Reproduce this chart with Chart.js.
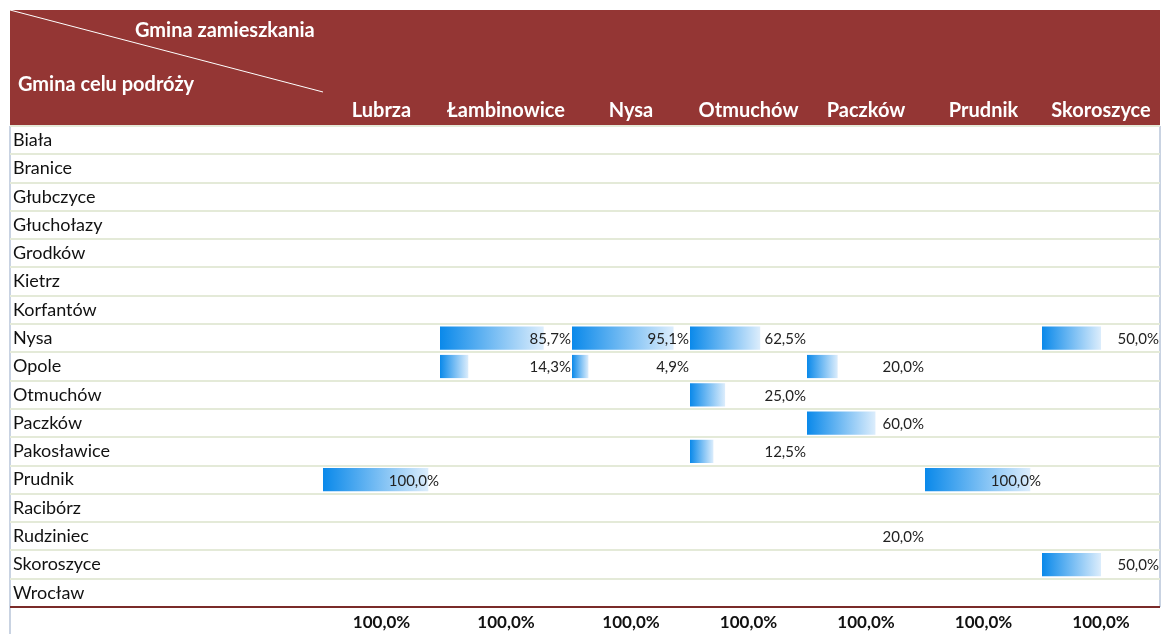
<!DOCTYPE html>
<html>
<head>
<meta charset="utf-8">
<script src="https://cdn.jsdelivr.net/npm/chart.js@4.4.0/dist/chart.umd.min.js"></script>
<style>
  html, body { margin: 0; padding: 0; background: #fff; }
</style>
</head>
<body>
<canvas id="chart" width="1164" height="634"></canvas>
<script>
const _ = null;

// wiersze: gmina celu podróży
const rowLabels = ['Biała', 'Branice', 'Głubczyce', 'Głuchołazy', 'Grodków', 'Kietrz', 'Korfantów', 'Nysa', 'Opole',
  'Otmuchów', 'Paczków', 'Pakosławice', 'Prudnik', 'Racibórz', 'Rudziniec', 'Skoroszyce', 'Wrocław'];
// kolumny: gmina zamieszkania
const colLabels = ['Lubrza', 'Łambinowice', 'Nysa', 'Otmuchów', 'Paczków', 'Prudnik', 'Skoroszyce'];

// udział (%) - jedna tablica na kolumnę, wartości w kolejności wierszy
const lubrza      = [_, _, _, _, _, _, _, _,    _,    _,  _,  _,    100, _, _,  _,  _];
const lambinowice = [_, _, _, _, _, _, _, 85.7, 14.3, _,  _,  _,    _,   _, _,  _,  _];
const nysa        = [_, _, _, _, _, _, _, 95.1, 4.9,  _,  _,  _,    _,   _, _,  _,  _];
const otmuchow    = [_, _, _, _, _, _, _, 62.5, _,    25, _,  12.5, _,   _, _,  _,  _];
const paczkow     = [_, _, _, _, _, _, _, _,    20,   _,  60, _,    _,   _, 20, _,  _];
const prudnik     = [_, _, _, _, _, _, _, _,    _,    _,  _,  _,    100, _, _,  _,  _];
const skoroszyce  = [_, _, _, _, _, _, _, 50,   _,    _,  _,  _,    _,   _, _,  50, _];
const series = [lubrza, lambinowice, nysa, otmuchow, paczkow, prudnik, skoroszyce];

// wiersz sumy
const totals = [100, 100, 100, 100, 100, 100, 100];

// komórki z wartością, ale bez paska (poza zakresem formatowania)
const noBar = [['Paczków', 'Rudziniec']];

// szerokości kolumn w px (Łambinowice jest szersza)
const colWidths = [117, 132, 118, 117, 118, 117, 118];
const labelColWidth = 313;
const labelIndent = 3;

const HEADER_RED = '#943634';
const GRID = '#e4ead8';
const BOTTOM_LINE = '#7a2b29';
const FONT = 'Lato';

// pasek danych jak w Excelu: 10% .. 90% szerokości komórki dla zakresu 0..max
const allVals = series.flat().filter(v => v !== null);
const vMin = 0;
const vMax = Math.max(...allVals);
const span = vMax - vMin;
const scaleMin = vMin - 0.125 * span;
const scaleMax = vMin + 1.125 * span;

const fmt = v => v.toFixed(1).replace('.', ',') + '%';

function barGradient(c, i) {
    const s = c.chart.scales['x' + i];
    if (!s || c.raw == null) return '#2a95ea';
    const x0 = s.getPixelForValue(scaleMin);
    const x1 = s.getPixelForValue(c.raw);
    if (!isFinite(x0) || !isFinite(x1) || x1 <= x0) return '#2a95ea';
    const g = c.chart.ctx.createLinearGradient(x0, 0, x1, 0);
    g.addColorStop(0, '#0a89ea');
    g.addColorStop(1, '#dcedfc');
    return g;
}

const datasets = series.map((vals, i) => ({
    label: colLabels[i],
    data: vals.map((v, r) => noBar.some(n => n[0] === colLabels[i] && n[1] === rowLabels[r]) ? null : v),
    xAxisID: 'x' + i,
    yAxisID: 'y',
    grouped: false,
    base: scaleMin,
    categoryPercentage: 1,
    barPercentage: 0.82,
    borderWidth: 0,
    backgroundColor: c => barGradient(c, i)
}));

const scales = {
    y: {
        type: 'category',
        position: 'left',
        offset: true,
        grid: {
            offset: true,
            drawTicks: true,
            tickLength: labelColWidth,
            lineWidth: 2,
            color: c => c.tick ? GRID : BOTTOM_LINE
        },
        border: { display: false },
        ticks: { crossAlign: 'far', autoSkip: false, padding: 0, color: '#111', font: { family: FONT, size: 18 } },
        afterFit: s => { s.width = labelColWidth - labelIndent; }
    }
};
colLabels.forEach((name, i) => {
    scales['x' + i] = {
        type: 'linear',
        position: 'bottom',
        stack: 'cols',
        stackWeight: colWidths[i],
        min: scaleMin,
        max: scaleMax,
        grid: { display: false, drawTicks: false },
        border: { display: false },
        ticks: {
            padding: 5,
            color: '#111',
            font: { family: FONT, size: 17, weight: 'bold' },
            callback: () => fmt(totals[i])
        },
        afterBuildTicks: s => { s.ticks = [{ value: (scaleMin + scaleMax) / 2 }]; },
        afterFit: s => { s.height = 27; }
    };
});

// nagłówek tabeli i obramowanie
const tableFrame = {
    id: 'tableFrame',
    beforeDraw(chart) {
        const { ctx, chartArea } = chart;
        const left = chart.scales.y.left - labelIndent;
        const right = chartArea.right;
        const top = 10;
        ctx.save();
        ctx.fillStyle = '#fff';
        ctx.fillRect(0, 0, chart.width, chart.height);
        ctx.fillStyle = HEADER_RED;
        ctx.fillRect(left, top, right - left, chartArea.top - top);

        ctx.strokeStyle = '#fff';
        ctx.lineWidth = 1;
        ctx.beginPath();
        ctx.moveTo(left, top);
        ctx.lineTo(chartArea.left, 92);
        ctx.stroke();

        ctx.fillStyle = '#fff';
        ctx.font = `bold 20px ${FONT}`;
        ctx.textBaseline = 'middle';
        ctx.textAlign = 'left';
        ctx.fillText('Gmina zamieszkania', 135, 31);
        ctx.fillText('Gmina celu podróży', 18, 85);

        ctx.textAlign = 'center';
        colLabels.forEach((name, i) => {
            const s = chart.scales['x' + i];
            ctx.fillText(name, (s.left + s.right) / 2, 111);
        });

        ctx.strokeStyle = '#c9d3e2';
        ctx.lineWidth = 2;
        ctx.beginPath();
        ctx.moveTo(left, chartArea.top);
        ctx.lineTo(left, chart.height);
        ctx.moveTo(right, chartArea.top);
        ctx.lineTo(right, chartArea.bottom);
        ctx.stroke();
        ctx.restore();
    },
    afterDatasetsDraw(chart) {
        const { ctx } = chart;
        ctx.save();
        ctx.font = `15px ${FONT}`;
        ctx.fillStyle = '#222';
        ctx.textAlign = 'right';
        ctx.textBaseline = 'middle';
        series.forEach((vals, i) => {
            const s = chart.scales['x' + i];
            vals.forEach((v, r) => {
                if (v === null) return;
                ctx.fillText(fmt(v), s.right - 1, chart.scales.y.getPixelForValue(r) + 1);
            });
        });
        ctx.restore();
    }
};

new Chart(document.getElementById('chart'), {
    type: 'bar',
    data: { labels: rowLabels, datasets: datasets },
    options: {
        indexAxis: 'y',
        responsive: false,
        animation: false,
        layout: { padding: { left: 10 + labelIndent, right: 4, top: 126, bottom: 0 } },
        plugins: { legend: { display: false }, tooltip: { enabled: false } },
        scales: scales
    },
    plugins: [tableFrame]
});
</script>
</body>
</html>
